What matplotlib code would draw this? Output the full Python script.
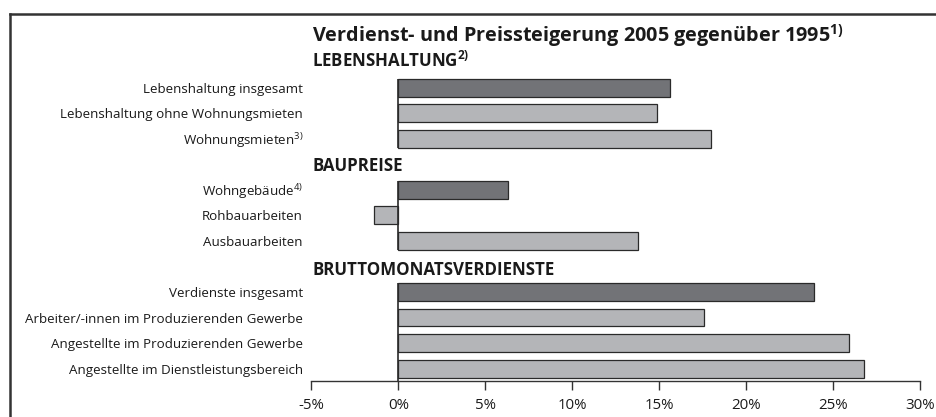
import matplotlib
matplotlib.use("Agg")
import matplotlib.pyplot as plt
import matplotlib.transforms as mtransforms
from matplotlib.lines import Line2D

plt.rcParams['font.family'] = ['Open Sans', 'DejaVu Sans']
plt.rcParams['mathtext.fontset'] = 'custom'
plt.rcParams['mathtext.rm'] = 'Open Sans'
plt.rcParams['mathtext.bf'] = 'Open Sans:bold'
plt.rcParams['mathtext.default'] = 'regular'

# Data
title = r'Verdienst- und Preissteigerung 2005 gegenüber 1995$^{\mathbf{1)}}$'
groups = [r'LEBENSHALTUNG$^{\mathbf{2)}}$', 'BAUPREISE', 'BRUTTOMONATSVERDIENSTE']
labels = [
    ['Lebenshaltung insgesamt', 'Lebenshaltung ohne Wohnungsmieten', r'Wohnungsmieten$^{3)}$'],
    [r'Wohngebäude$^{4)}$', 'Rohbauarbeiten', 'Ausbauarbeiten'],
    ['Verdienste insgesamt', 'Arbeiter/-innen im Produzierenden Gewerbe',
     'Angestellte im Produzierenden Gewerbe', 'Angestellte im Dienstleistungsbereich'],
]
values = [
    [15.6, 14.9, 18.0],
    [6.3, -1.4, 13.8],
    [23.9, 17.6, 25.9, 26.8],
]
xticks = [-5, 0, 5, 10, 15, 20, 25, 30]

dark = '#727377'
light = '#b4b5b8'
edge = '#2a2a2a'
txt = '#1a1a1a'

fig = plt.figure(figsize=(9.36, 4.17), dpi=100)
ax = fig.add_axes([0.3326, 0.0872, 0.6503, 0.7944])

bar_h = 0.70
heading_shift = [-0.05, 0.05, 0.15]
blend = mtransforms.blended_transform_factory(fig.transFigure, ax.transData)

pos = 0
ytick_pos, ytick_lab = [], []
for g, (head, labs, vals) in enumerate(zip(groups, labels, values)):
    ax.text(312 / 936, pos + heading_shift[g], head, transform=blend, ha='left', va='center',
            fontsize=12.2, fontweight='bold', color=txt, clip_on=False)
    start = pos + 1
    for i, (lab, v) in enumerate(zip(labs, vals)):
        y = start + i
        ax.barh(y, v, height=bar_h, color=dark if i == 0 else light,
                edgecolor=edge, linewidth=0.9, zorder=2)
        ytick_pos.append(y)
        ytick_lab.append(lab)
    end = start + len(labs) - 1
    bottom = end + bar_h / 2
    if g == len(groups) - 1:
        bottom = 12.47
    ax.plot([0, 0], [start - bar_h / 2, bottom], color=edge, lw=1.2, zorder=3,
            solid_capstyle='butt')
    pos = end + 1

ax.set_xlim(-5, 30)
ax.set_ylim(12.47, -0.5)
ax.set_xticks(xticks)
ax.set_xticklabels([f'{t}%' for t in xticks])
ax.set_yticks(ytick_pos)
ax.set_yticklabels(ytick_lab)
ax.tick_params(axis='y', length=0, pad=6, labelsize=9.6, labelcolor=txt)
ax.tick_params(axis='x', direction='out', length=6.2, width=1, color='#333333',
               pad=6.5, labelsize=10.8, labelcolor=txt)
for s in ['left', 'top', 'right']:
    ax.spines[s].set_visible(False)
ax.spines['bottom'].set_color('#333333')
ax.spines['bottom'].set_linewidth(1)

fig.text(312 / 936, 1 - 36 / 417, title, ha='left', va='center',
         fontsize=14.3, fontweight='bold', color=txt)

# frame lines
fy = 1 - 13.5 / 417
fx = 9.5 / 936
fig.add_artist(Line2D([fx, 1], [fy, fy], transform=fig.transFigure, color='#333333', lw=1.8))
fig.add_artist(Line2D([fx, fx], [0, fy], transform=fig.transFigure, color='#333333', lw=1.8))

fig.savefig('out.png', dpi=100)
